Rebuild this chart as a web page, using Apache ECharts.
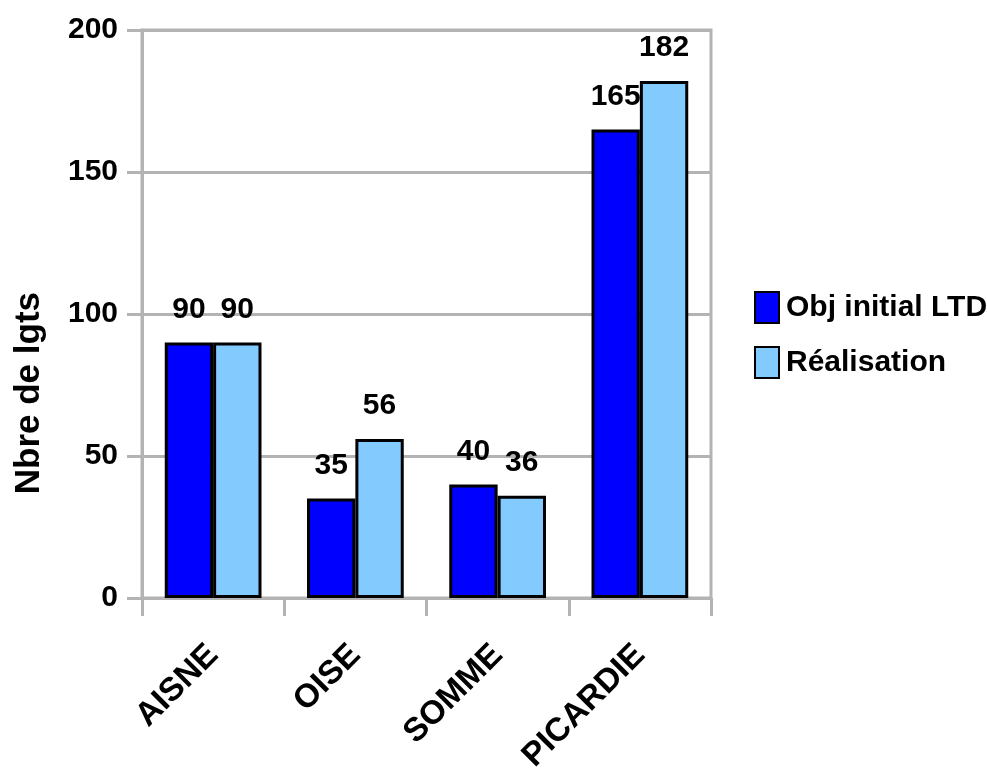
<!DOCTYPE html>
<html><head><meta charset="utf-8">
<script src="https://cdn.jsdelivr.net/npm/echarts@6/dist/echarts.min.js"></script>
<style>html,body{margin:0;padding:0;background:#fff}#c{width:987px;height:777px}</style>
</head><body><div id="c"></div>
<script>
const categories = ["AISNE", "OISE", "SOMME", "PICARDIE"];
const objInitial = [90, 35, 40, 165];
const realisation = [90, 56, 36, 182];
const seriesNames = ["Obj initial LTD", "Réalisation"];
const yTicks = [0, 50, 100, 150, 200];

const FONT = '"Liberation Sans", Arial, sans-serif';
const txt = {fontFamily: FONT, fontWeight: 'bold', fontSize: 30, color: '#000'};
const chart = echarts.init(document.getElementById('c'));
chart.setOption({
  animation: false,
  textStyle: {fontFamily: FONT},
  grid: {left: 142, right: 276, top: 30, bottom: 179, show: true, borderColor: '#b3b3b3', borderWidth: 3},
  legend: {
    orient: 'vertical', left: 749, top: 286, itemWidth: 24, itemHeight: 31, itemGap: 22,
    icon: 'rect',
    textStyle: Object.assign({}, txt, {padding: [6, 0, 0, 2]}),
    data: seriesNames
  },
  xAxis: {
    type: 'category', data: categories,
    axisLine: {lineStyle: {color: '#b3b3b3', width: 3}},
    axisTick: {show: true, length: 18, lineStyle: {color: '#b3b3b3', width: 3}},
    axisLabel: Object.assign({}, txt, {fontSize: 33, rotate: 45, margin: 52, interval: 0})
  },
  yAxis: {
    type: 'value', min: yTicks[0], max: yTicks[yTicks.length - 1], interval: 50,
    axisLine: {show: true, lineStyle: {color: '#b3b3b3', width: 3}},
    axisTick: {show: true, length: 15, lineStyle: {color: '#b3b3b3', width: 3}},
    splitLine: {lineStyle: {color: '#b3b3b3', width: 3}},
    axisLabel: Object.assign({}, txt, {margin: 24})
  },
  graphic: [{
    type: 'text', left: 12, top: 292, rotation: Math.PI / 2,
    style: {text: 'Nbre de lgts', font: 'bold 35px ' + FONT, fill: '#000'}
  }],
  series: [
    {name: seriesNames[0], type: 'bar', data: objInitial, barGap: '0%', barCategoryGap: '32%',
     itemStyle: {color: '#0000ff', borderColor: '#000', borderWidth: 3},
     label: Object.assign({show: true, position: 'top', distance: 18}, txt)},
    {name: seriesNames[1], type: 'bar', data: realisation,
     itemStyle: {color: '#83caff', borderColor: '#000', borderWidth: 3},
     label: Object.assign({show: true, position: 'top', distance: 18}, txt)}
  ]
});
</script></body></html>
